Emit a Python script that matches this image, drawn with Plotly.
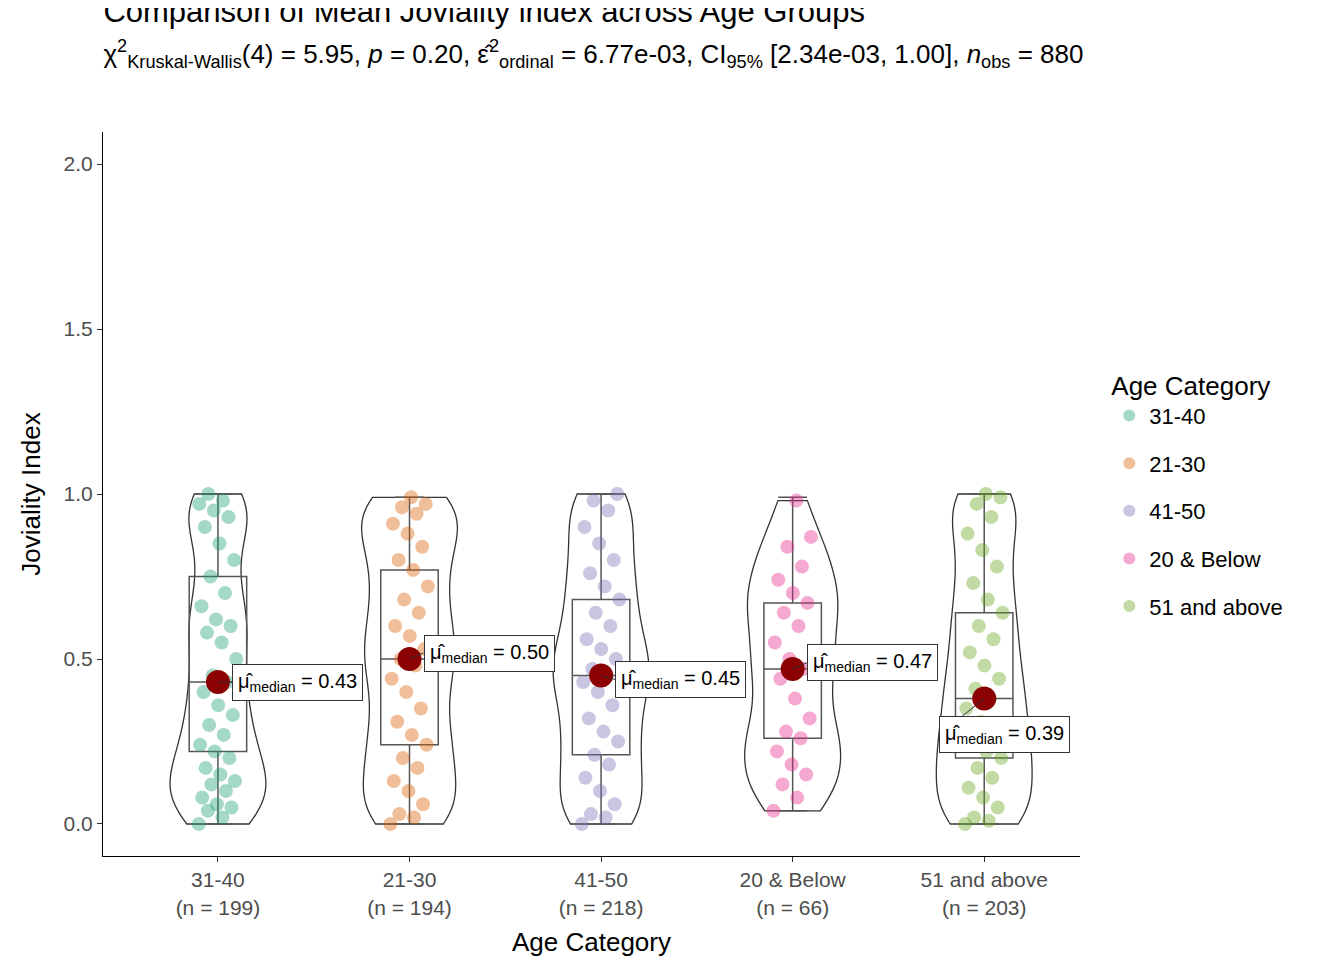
import plotly.graph_objects as go

groups = ["31-40", "21-30", "41-50", "20 & Below", "51 and above"]
counts = [199, 194, 218, 66, 203]
colors = ["#1B9E77", "#D95F02", "#7570B3", "#E7298A", "#66A61E"]

vals_3140 = [0.0, 0.02, 0.04, 0.05, 0.06, 0.08, 0.1, 0.12, 0.13, 0.15, 0.17, 0.2, 0.22, 0.24, 0.27, 0.3, 0.33, 0.36,
             0.4, 0.43, 0.45, 0.5, 0.55, 0.58, 0.6, 0.62, 0.66, 0.7, 0.75, 0.8, 0.85, 0.9, 0.93, 0.95, 0.97, 0.98, 1.0]
vals_2130 = [0.0, 0.02, 0.03, 0.06, 0.1, 0.13, 0.17, 0.2, 0.24, 0.27, 0.31, 0.35, 0.4, 0.44, 0.48, 0.5, 0.53,
             0.57, 0.6, 0.64, 0.68, 0.72, 0.77, 0.8, 0.84, 0.88, 0.91, 0.94, 0.96, 0.97, 0.99]
vals_4150 = [0.0, 0.02, 0.03, 0.06, 0.1, 0.14, 0.18, 0.21, 0.25, 0.28, 0.32, 0.36, 0.4, 0.43, 0.45, 0.47, 0.5,
             0.53, 0.56, 0.6, 0.64, 0.68, 0.72, 0.76, 0.8, 0.85, 0.9, 0.95, 0.98, 1.0]
vals_20b = [0.04, 0.08, 0.12, 0.15, 0.18, 0.22, 0.26, 0.28, 0.32, 0.38, 0.44, 0.47, 0.5, 0.55, 0.6,
            0.64, 0.67, 0.7, 0.74, 0.78, 0.84, 0.87, 0.98]
vals_51 = [0.0, 0.01, 0.02, 0.05, 0.08, 0.11, 0.14, 0.17, 0.2, 0.22, 0.25, 0.28, 0.31, 0.35, 0.38, 0.41, 0.44,
           0.48, 0.52, 0.56, 0.6, 0.64, 0.68, 0.73, 0.78, 0.83, 0.88, 0.93, 0.97, 0.99, 1.0]
values = [vals_3140, vals_2130, vals_4150, vals_20b, vals_51]

q1 = [0.22, 0.24, 0.21, 0.26, 0.20]
medians = [0.43, 0.50, 0.45, 0.47, 0.38]
q3 = [0.75, 0.77, 0.68, 0.67, 0.64]
lowf = [0.0, 0.0, 0.0, 0.04, 0.0]
upf = [1.0, 0.99, 1.0, 0.99, 1.0]
median_labels = ["0.43", "0.50", "0.45", "0.47", "0.39"]

fig = go.Figure()
for i, g in enumerate(groups):
    v = values[i]
    fig.add_trace(go.Violin(x=[i] * len(v), y=v, width=0.5, spanmode="hard", points=False,
                            line=dict(color="#333333", width=1.3), fillcolor="rgba(0,0,0,0)",
                            showlegend=False, hoverinfo="skip", bandwidth=0.09))
    fig.add_trace(go.Box(x=[i], q1=[q1[i]], median=[medians[i]], q3=[q3[i]],
                         lowerfence=[lowf[i]], upperfence=[upf[i]], width=0.3,
                         line=dict(color="#555555", width=1.5), fillcolor="rgba(0,0,0,0)",
                         showlegend=False, hoverinfo="skip"))
    jx = [i + ((k * 0.618) % 1 - 0.5) * 0.2 for k in range(len(v))]
    fig.add_trace(go.Scatter(x=jx, y=v, mode="markers", name=g, legendgroup=g,
                             marker=dict(color=colors[i], size=14, opacity=0.4)))

fig.add_trace(go.Scatter(x=list(range(5)), y=medians, mode="markers", showlegend=False,
                         marker=dict(color="#8B0000", size=24)))

offs = [(14, 0), (14, -6), (14, 4), (14, -6), (-45, 36)]
for i, m in enumerate(medians):
    ax, ay = offs[i]
    fig.add_annotation(x=i, y=m, ax=ax, ay=ay, xanchor="left",
                       text="μ̂<sub>median</sub> = " + median_labels[i], showarrow=True,
                       arrowhead=0, arrowcolor="#333", arrowwidth=1,
                       bordercolor="#333", borderwidth=1, borderpad=5, bgcolor="white",
                       font=dict(size=20, color="black"))

fig.update_layout(
    width=1344, height=960, plot_bgcolor="white", paper_bgcolor="white",
    font=dict(family="Liberation Sans, Arial", size=20, color="black"),
    margin=dict(l=95, r=272, t=124, b=112),
    title=dict(text="Comparison of Mean Joviality index across Age Groups<br>"
               "<span style='font-size:26px'>χ<sup>2</sup><sub>Kruskal-Wallis</sub>(4) = 5.95, <i>p</i> = 0.20, "
               "ε̂<sup>2</sup><sub>ordinal</sub> = 6.77e-03, CI<sub>95%</sub> [2.34e-03, 1.00], "
               "<i>n</i><sub>obs</sub> = 880</span>",
               x=0.071, xanchor="left", y=0.985, yanchor="top", font=dict(size=31)),
    legend=dict(title=dict(text="Age Category", font=dict(size=26)), font=dict(size=22),
                x=1.03, y=0.5, yanchor="middle", itemsizing="constant", tracegroupgap=16),
    xaxis=dict(range=[-0.6, 4.5], tickvals=list(range(5)),
               ticktext=[f"{g}<br>(n = {c})" for g, c in zip(groups, counts)],
               showline=True, linecolor="black", ticks="outside", tickcolor="#333",
               tickfont=dict(size=21, color="#4d4d4d"), showgrid=False, zeroline=False,
               title=dict(text="Age Category", font=dict(size=26))),
    yaxis=dict(range=[-0.097, 2.097], tickvals=[0, 0.5, 1.0, 1.5, 2.0],
               ticktext=["0.0", "0.5", "1.0", "1.5", "2.0"],
               showline=True, linecolor="black", ticks="outside", tickcolor="#333",
               tickfont=dict(size=21, color="#4d4d4d"), showgrid=False, zeroline=False,
               title=dict(text="Joviality Index", font=dict(size=26))),
)
fig.write_html("out.html")
